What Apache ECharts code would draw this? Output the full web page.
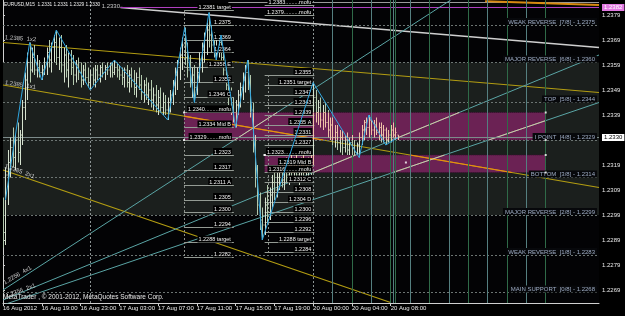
<!DOCTYPE html>
<html><head><meta charset="utf-8">
<script src="https://cdn.jsdelivr.net/npm/echarts@6.0.0/dist/echarts.min.js"></script>
<style>html,body{margin:0;padding:0;background:#000}#chart{width:625px;height:316px}</style>
</head><body><div id="chart"></div>
<script>
// ---------- data ----------
const tickLabels = ['16 Aug 2012','16 Aug 19:00','16 Aug 23:00','17 Aug 03:00','17 Aug 07:00','17 Aug 11:00','17 Aug 15:00','17 Aug 19:00','20 Aug 00:00','20 Aug 04:00','20 Aug 08:00'];
const tickIdx = [0,16,32,48,64,80,96,112,128,144,160];
const priceTicks = [1.2379,1.2369,1.2359,1.2349,1.2339,1.2319,1.2309,1.2299,1.2289,1.2279,1.2269];

const opens = [1.2300,1.2292,1.2315,1.2320,1.2326,1.2322,1.2329,1.2324,1.2331,1.2342,
1.2353,1.2360,1.2357,1.2362,1.2357,1.2358,1.2356,1.2357,1.2360,1.2364,
1.2361,1.2366,1.2368,1.2362,1.2366,1.2359,1.2363,1.2357,1.2361,1.2358,
1.2355,1.2359,1.2356,1.2353,1.2357,1.2354,1.2352,1.2355,1.2353,1.2357,
1.2355,1.2358,1.2356,1.2358,1.2357,1.2359,1.2356,1.2358,1.2357,1.2355,
1.2354,1.2357,1.2352,1.2355,1.2353,1.2350,1.2354,1.2351,1.2348,1.2351,
1.2347,1.2349,1.2345,1.2347,1.2343,1.2346,1.2342,1.2344,1.2341,1.2344,
1.2347,1.2351,1.2355,1.2358,1.2363,1.2367,1.2362,1.2357,1.2352,1.2355,
1.2350,1.2356,1.2361,1.2365,1.2369,1.2373,1.2371,1.2367,1.2364,1.2366,
1.2368,1.2362,1.2357,1.2351,1.2346,1.2342,1.2340,1.2343,1.2347,1.2350,
1.2353,1.2356,1.2352,1.2341,1.2327,1.2314,1.2303,1.2297,1.2295,1.2303,
1.2300,1.2307,1.2312,1.2309,1.2314,1.2316,1.2313,1.2317,1.2315,1.2319,
1.2316,1.2318,1.2315,1.2317,1.2319,1.2316,1.2318,1.2320,1.2320,1.2346,
1.2340,1.2342,1.2337,1.2340,1.2336,1.2333,1.2335,1.2330,1.2332,1.2328,
1.2330,1.2326,1.2329,1.2325,1.2328,1.2326,1.2324,1.2327,1.2330,1.2333,
1.2336,1.2334,1.2337,1.2333,1.2335,1.2332,1.2334,1.2331,1.2333,1.2329,
1.2331,1.2333,1.2331,1.2331];
const highs = [1.2306,1.2318,1.2325,1.2330,1.2334,1.2331,1.2336,1.2333,1.2345,1.2356,
1.2364,1.2368,1.2366,1.2367,1.2363,1.2361,1.2359,1.2362,1.2366,1.2369,
1.2368,1.2371,1.2373,1.2370,1.2371,1.2366,1.2367,1.2364,1.2365,1.2363,
1.2361,1.2362,1.2360,1.2359,1.2360,1.2358,1.2357,1.2358,1.2359,1.2359,
1.2359,1.2360,1.2359,1.2360,1.2360,1.2360,1.2361,1.2360,1.2359,1.2358,
1.2358,1.2359,1.2357,1.2358,1.2357,1.2356,1.2358,1.2355,1.2353,1.2354,
1.2352,1.2353,1.2350,1.2351,1.2349,1.2350,1.2348,1.2347,1.2346,1.2349,
1.2353,1.2358,1.2361,1.2366,1.2370,1.2374,1.2368,1.2363,1.2358,1.2359,
1.2358,1.2364,1.2368,1.2372,1.2376,1.2380,1.2375,1.2372,1.2369,1.2369,
1.2371,1.2365,1.2360,1.2355,1.2350,1.2346,1.2345,1.2349,1.2352,1.2356,
1.2359,1.2361,1.2355,1.2344,1.2331,1.2319,1.2308,1.2302,1.2306,1.2311,
1.2310,1.2315,1.2318,1.2317,1.2320,1.2321,1.2319,1.2322,1.2321,1.2323,
1.2322,1.2323,1.2320,1.2322,1.2323,1.2321,1.2322,1.2324,1.2352,1.2349,
1.2345,1.2346,1.2343,1.2344,1.2341,1.2338,1.2338,1.2335,1.2335,1.2333,
1.2333,1.2331,1.2332,1.2330,1.2331,1.2329,1.2328,1.2332,1.2335,1.2337,
1.2338,1.2339,1.2337,1.2337,1.2338,1.2336,1.2336,1.2335,1.2334,1.2333,
1.2335,1.2336,1.2334,1.2331];
const lows = [1.2286,1.2287,1.2303,1.2314,1.2318,1.2317,1.2320,1.2319,1.2327,1.2337,
1.2345,1.2352,1.2356,1.2355,1.2354,1.2354,1.2353,1.2355,1.2355,1.2358,
1.2356,1.2360,1.2359,1.2357,1.2356,1.2352,1.2354,1.2350,1.2355,1.2351,
1.2352,1.2353,1.2350,1.2351,1.2352,1.2350,1.2349,1.2351,1.2350,1.2353,
1.2352,1.2354,1.2353,1.2355,1.2354,1.2354,1.2355,1.2354,1.2353,1.2351,
1.2350,1.2350,1.2348,1.2350,1.2347,1.2346,1.2349,1.2345,1.2344,1.2345,
1.2343,1.2342,1.2341,1.2340,1.2339,1.2340,1.2339,1.2339,1.2337,1.2340,
1.2343,1.2347,1.2349,1.2353,1.2357,1.2359,1.2354,1.2350,1.2346,1.2344,
1.2347,1.2352,1.2356,1.2360,1.2363,1.2366,1.2364,1.2362,1.2361,1.2362,
1.2360,1.2354,1.2349,1.2343,1.2339,1.2336,1.2334,1.2339,1.2342,1.2345,
1.2348,1.2349,1.2338,1.2324,1.2310,1.2299,1.2293,1.2289,1.2291,1.2296,
1.2297,1.2302,1.2305,1.2306,1.2309,1.2310,1.2309,1.2312,1.2311,1.2313,
1.2312,1.2313,1.2311,1.2313,1.2314,1.2312,1.2314,1.2315,1.2319,1.2336,
1.2335,1.2334,1.2333,1.2334,1.2330,1.2329,1.2327,1.2326,1.2325,1.2324,
1.2323,1.2324,1.2323,1.2323,1.2323,1.2323,1.2323,1.2322,1.2327,1.2329,
1.2331,1.2330,1.2331,1.2330,1.2331,1.2329,1.2328,1.2328,1.2327,1.2328,
1.2328,1.2330,1.2329,1.2329];
const closes = [1.2292,1.2315,1.2320,1.2326,1.2322,1.2329,1.2324,1.2331,1.2342,1.2353,
1.2360,1.2357,1.2362,1.2357,1.2358,1.2356,1.2357,1.2360,1.2364,1.2361,
1.2366,1.2368,1.2362,1.2366,1.2359,1.2363,1.2357,1.2361,1.2358,1.2355,
1.2359,1.2356,1.2353,1.2357,1.2354,1.2352,1.2355,1.2353,1.2357,1.2355,
1.2358,1.2356,1.2358,1.2357,1.2359,1.2356,1.2358,1.2357,1.2355,1.2354,
1.2357,1.2352,1.2355,1.2353,1.2350,1.2354,1.2351,1.2348,1.2351,1.2347,
1.2349,1.2345,1.2347,1.2343,1.2346,1.2342,1.2344,1.2341,1.2344,1.2347,
1.2351,1.2355,1.2358,1.2363,1.2367,1.2362,1.2357,1.2352,1.2355,1.2350,
1.2356,1.2361,1.2365,1.2369,1.2373,1.2371,1.2367,1.2364,1.2366,1.2368,
1.2362,1.2357,1.2351,1.2346,1.2342,1.2340,1.2343,1.2347,1.2350,1.2353,
1.2356,1.2352,1.2341,1.2327,1.2314,1.2303,1.2297,1.2295,1.2303,1.2300,
1.2307,1.2312,1.2309,1.2314,1.2316,1.2313,1.2317,1.2315,1.2319,1.2316,
1.2318,1.2315,1.2317,1.2319,1.2316,1.2318,1.2320,1.2318,1.2346,1.2340,
1.2342,1.2337,1.2340,1.2336,1.2333,1.2335,1.2330,1.2332,1.2328,1.2330,
1.2326,1.2329,1.2325,1.2328,1.2326,1.2324,1.2327,1.2330,1.2333,1.2336,
1.2334,1.2337,1.2333,1.2335,1.2332,1.2334,1.2331,1.2333,1.2329,1.2331,
1.2333,1.2331,1.2332,1.2330];

const zigzagIdx = [1,11,16,22,36,46,68,75,79,85,88,90,96,101,107,128,147,151,158,163];
const zigzagPx  = [1.2305,1.2368,1.2353,1.2373,1.2349,1.2361,1.2337,1.2374,1.2344,1.2380,1.2361,1.2371,1.2334,1.2361,1.2289,1.2352,1.2322,1.2339,1.2327,1.2330];

// Murrey math levels
const murreyLevels = [1.2375,1.2360,1.2344,1.2329,1.2314,1.2299,1.2283,1.2268];
const murreyNames = ['WEAK REVERSE  [7/8]','MAJOR REVERSE  [6/8]','TOP  [5/8]','I POINT  [4/8]','BOTTOM  [3/8]','MAJOR REVERSE  [2/8]','WEAK REVERSE  [1/8]','MAIN SUPPORT  [0/8]'];

// projection levels (two groups)
const fibLeftPx = [1.2381,1.2375,1.2369,1.2364,1.2358,1.2352,1.2346,1.2340,1.2334,1.2329,1.2323,1.2317,1.2311,1.2305,1.2300,1.2294,1.2288,1.2282];
const fibLeftTxt = ['1.2381 target','1.2375','1.2369','1.2364','1.2358 E','1.2352','1.2346 C','1.2340.........mofu','1.2334 Mid B','1.2329........mofu','1.2323','1.2317','1.2311 A','1.2305','1.2300','1.2294','1.2288 target','1.2282'];
const fibRightPx = [1.2383,1.2379,1.2355,1.2351,1.2347,1.2343,1.2339,1.2335,1.2331,1.2327,1.2323,1.2319,1.2316,1.2312,1.2308,1.2304,1.2300,1.2296,1.2292,1.2288,1.2284];
const fibRightTxt = ['1.2383.........mofu','1.2379..........mofu','1.2355','1.2351 target','1.2347','1.2343','1.2339','1.2335 A','1.2331','1.2327','1.2323..........mofu','1.2319 Mid B','1.2316.........mofu','1.2312 C','1.2308','1.2304 D','1.2300','1.2296','1.2292','1.2288 target','1.2284'];

// zones / boxes (bar index, price)
const boxUpper = [[74.7,1.2340],[224,1.2329]];
const boxLower = [[108,1.2323],[224,1.2316]];
const grayZone = [1.2360,1.2299];

// trend lines: [[idx,price],[idx,price]]
const whiteLine  = [[48.5,1.2382],[246,1.2366]];
const purpleLine = [[48.5,1.2382],[246,1.2382]];
const topGrayLine = [[93,1.2384],[246,1.2384]];
const orangeTop  = [[199,1.23845],[246,1.2383]];
const gann1x2 = [[0,1.2368],[246,1.2348]];
const gann1x1 = [[0,1.2351],[246,1.2310]];
const gann2x1 = [[0,1.2317],[160,1.2264]];
const tealA = [[0,1.2269],[184.8,1.2385]];
const tealB = [[0,1.2265],[246,1.2363]];
const tealC = [[0,1.2263],[246,1.2344]];

const daySeparators = [36,128];
const sessionIdx = [136,144,152,160,161,162,168,176,184,192,200,208,216,224];
const bidPrice = 1.2330;
const tagPrice = 1.2382;

// ---------- chart ----------
function fontAvailable(name){
  const c = document.createElement('canvas').getContext('2d');
  const s = 'EURUSD,M15 1.2331 1.2331';
  c.font = '20px monospace'; const w0 = c.measureText(s).width;
  c.font = "20px '" + name + "', monospace"; const w1 = c.measureText(s).width;
  return Math.abs(w1 - w0) > 0.5;
}
const FONT = 'Liberation Sans';
const NARROW = fontAvailable('Liberation Sans Narrow');
const TITLE_FONT = NARROW ? 'Liberation Sans Narrow' : FONT;
const TITLE_SIZE = NARROW ? 6 : 4.8;

const chart = echarts.init(document.getElementById('chart'), null, {renderer:'canvas'});
const grid = {left:0, right:26, top:0, bottom:13, show:true, backgroundColor:'#030305', borderWidth:0};

function segSeries(pts, color, width, z, extra){
  return Object.assign({type:'line', data:pts, symbol:'none', silent:true, animation:false, z:z||3,
    lineStyle:{color:color, width:width||1}}, extra||{});
}
const upColor = '#d6e2cf', downColor = '#b3c9ad', inBoxColor = '#efc4a8';

function boxRects(api){
  return [boxUpper, boxLower].map(b=>{
    const a = api.coord(b[0]), c = api.coord(b[1]);
    return {x1:Math.min(a[0],c[0]), x2:Math.max(a[0],c[0]), y1:Math.min(a[1],c[1]), y2:Math.max(a[1],c[1])};
  });
}
function clipSeg(p0, p1, r){
  let t0 = 0, t1 = 1; const dx = p1[0]-p0[0], dy = p1[1]-p0[1];
  const P = [-dx, dx, -dy, dy], Q = [p0[0]-r.x1, r.x2-p0[0], p0[1]-r.y1, r.y2-p0[1]];
  for (let k=0;k<4;k++){
    if (P[k] === 0){ if (Q[k] < 0) return null; }
    else { const t = Q[k]/P[k];
      if (P[k] < 0){ if (t > t1) return null; if (t > t0) t0 = t; }
      else { if (t < t0) return null; if (t < t1) t1 = t; } }
  }
  return [[p0[0]+t0*dx, p0[1]+t0*dy],[p0[0]+t1*dx, p0[1]+t1*dy]];
}
const overlayLines = [
  {pts:gann1x1, color:'#ec8d10', width:1.2},
  {pts:tealA, color:'#d9c3a2', width:1},
  {pts:tealB, color:'#d9c3a2', width:1},
  {pts:tealC, color:'#d9c3a2', width:1},
  {pts:[[0,bidPrice],[246,bidPrice]], color:'#c9a3b2', width:1}
];

const option = {
  animation:false,
  textStyle:{fontFamily:FONT},
  title:[
    {text:'EURUSD,M15  1.2331 1.2331 1.2329 1.2330', left:4, top:2, padding:0, textStyle:{color:'#f0f0f0', fontSize:TITLE_SIZE, fontWeight:'normal', fontFamily:TITLE_FONT}},
    {text:'MetaTrader , © 2001-2012, MetaQuotes Software Corp.', left:3, top:294, padding:0, textStyle:{color:'#e8e8e8', fontSize:6.5, fontWeight:'normal', fontFamily:FONT}}
  ],
  grid:grid,
  xAxis:{type:'value', min:0, max:246, splitLine:{show:false},
    axisLine:{show:true, lineStyle:{color:'#cfcfcf', width:1}},
    axisTick:{show:true, customValues:tickIdx, length:3, lineStyle:{color:'#cfcfcf'}},
    axisLabel:{customValues:tickIdx, formatter:(v)=>{const k=tickIdx.indexOf(v); return k>=0?tickLabels[k]:'';},
      align:'left', margin:2, color:'#e8e8e8', fontSize:6, fontFamily:FONT, showMinLabel:true}
  },
  yAxis:{type:'value', position:'right', min:1.22638, max:1.2385, splitLine:{show:false},
    axisLine:{show:true, lineStyle:{color:'#cfcfcf', width:1}},
    axisTick:{show:true, customValues:priceTicks, length:2, lineStyle:{color:'#cfcfcf'}},
    axisLabel:{customValues:priceTicks, formatter:(v)=>v.toFixed(4), margin:3, color:'#e8e8e8', fontSize:6, fontFamily:FONT}
  },
  series:[
    {type:'line', data:[], z:0, silent:true,
      markArea:{silent:true, precision:6, itemStyle:{color:'#1b1f1d'}, data:[[{yAxis:grayZone[0]},{yAxis:grayZone[1]}]]}},
    {type:'line', data:[], z:1, silent:true,
      markArea:{silent:true, precision:6, itemStyle:{color:'#6b2254', borderColor:'#3a1030', borderWidth:1, borderType:'dotted'},
        data:[[{coord:boxUpper[0]},{coord:boxUpper[1]}],[{coord:boxLower[0]},{coord:boxLower[1]}]]}},
    {type:'line', data:[], z:2, silent:true,
      markLine:{silent:true, precision:6, symbol:['none','none'], animation:false,
        lineStyle:{color:'#6c7472', width:1, type:[2,2]},
        label:{show:true, position:'insideEndTop', distance:[2,0], formatter:'{b}', color:'#9eacc4', fontSize:6, fontFamily:FONT,
          backgroundColor:'#07080b', padding:[1,2,0,2]},
        data:murreyLevels.map((p,k)=>({yAxis:p, name:murreyNames[k]+' - '+p.toFixed(4)}))}},
    {type:'line', data:[], z:2, silent:true,
      markLine:{silent:true, precision:6, symbol:['none','none'], animation:false, label:{show:false},
        data:daySeparators.map(v=>({xAxis:v, lineStyle:{color:'#8c9494', width:1, type:[2,2]}}))
          .concat(sessionIdx.map((v,k)=>({xAxis:v, lineStyle:{color:(k%2?'#2f6a48':'#557f80'), width:1, type:'solid'}})))}},
    {type:'line', data:[], z:3, silent:true,
      markLine:{silent:true, precision:6, symbol:['none','none'], animation:false,
        lineStyle:{color:'#7d8b8b', width:1, type:'solid'},
        label:{show:true, position:'end', distance:3, formatter:()=>bidPrice.toFixed(4), color:'#000', backgroundColor:'#ffffff', padding:[1,2,0,2], fontSize:6, fontFamily:FONT},
        data:[{yAxis:bidPrice}]}},
    {type:'line', data:[], z:3, silent:true,
      markLine:{silent:true, precision:6, symbol:['none','none'], animation:false,
        lineStyle:{color:'#949b94', width:1, type:'solid'},
        label:{show:true, position:'insideEndTop', distance:[2,0], formatter:'{b}', color:'#f2f2f2', fontSize:5.5, fontFamily:FONT, backgroundColor:'#000', padding:[1,1,0,1]},
        data:fibLeftPx.map((p,k)=>[{coord:[74.7,p], name:fibLeftTxt[k]},{coord:[95.3,p]}])
          .concat(fibRightPx.map((p,k)=>[{coord:[108,p], name:fibRightTxt[k]},{coord:[128.5,p]}]))
          .concat([[{coord:[74.7,fibLeftPx[0]], lineStyle:{type:[2,2], color:'#8a8f8a'}, label:{show:false}},{coord:[74.7,fibLeftPx[fibLeftPx.length-1]]}],
                   [{coord:[109.5,fibRightPx[2]], lineStyle:{type:[2,2], color:'#8a8f8a'}, label:{show:false}},{coord:[109.5,fibRightPx[fibRightPx.length-1]]}]])}},
    segSeries(topGrayLine,'#9a9a9a',1,3),
    segSeries(orangeTop,'#d88a10',2,3),
    segSeries(whiteLine,'#cfcfcf',1.6,3),
    segSeries(purpleLine,'#b040c0',1.2,3,{endLabel:{show:true, formatter:()=>tagPrice.toFixed(4), color:'#ffffff', backgroundColor:'#e27ae2', padding:[1,2,0,2], fontSize:6, fontFamily:FONT, distance:3}}),
    segSeries(gann1x2,'#b39d12',1.2,3),
    segSeries(gann1x1,'#b39d12',1.2,3),
    segSeries(gann2x1,'#b39d12',1.2,3),
    segSeries(tealA,'#5aa5a5',1,3),
    segSeries(tealB,'#5aa5a5',1,3),
    segSeries(tealC,'#5aa5a5',1,3),
    {type:'custom', z:4, silent:true, animation:false, clip:true,
      encode:{x:0, y:1}, data:[[0, bidPrice]],
      renderItem:(params, api)=>{
        const rects = boxRects(api); const children = [];
        overlayLines.forEach(L=>{
          const p0 = api.coord(L.pts[0]), p1 = api.coord(L.pts[1]);
          rects.forEach(r=>{ const s = clipSeg(p0,p1,r);
            if (s) children.push({type:'line', shape:{x1:s[0][0],y1:s[0][1],x2:s[1][0],y2:s[1][1]}, style:{stroke:L.color, lineWidth:L.width}}); });
        });
        return {type:'group', children};
      }},
    {type:'custom', z:5, silent:true, animation:false, clip:true,
      renderItem:(params, api)=>{
        const i = api.value(0);
        const x = Math.round(api.coord([i, api.value(1)])[0]) + 0.5;
        const yo = api.coord([i, api.value(1)])[1];
        const yc = api.coord([i, api.value(2)])[1];
        const yl = api.coord([i, api.value(3)])[1];
        const yh = api.coord([i, api.value(4)])[1];
        const base = api.value(2) >= api.value(1) ? upColor : downColor;
        const ranges = boxRects(api).filter(r=>x>=r.x1 && x<=r.x2).map(r=>[r.y1,r.y2]);
        const inside = y => ranges.some(r=>y>=r[0] && y<=r[1]);
        const pts = [yh, yl];
        ranges.forEach(r=>{ if (r[0]>yh && r[0]<yl) pts.push(r[0]); if (r[1]>yh && r[1]<yl) pts.push(r[1]); });
        pts.sort((a,b)=>a-b);
        const children = [];
        for (let k=0;k<pts.length-1;k++){
          const m = (pts[k]+pts[k+1])/2;
          children.push({type:'line', shape:{x1:x, y1:pts[k], x2:x, y2:pts[k+1]}, style:{stroke: inside(m)?inBoxColor:base, lineWidth:1}});
        }
        children.push({type:'line', shape:{x1:x-1, y1:yo, x2:x, y2:yo}, style:{stroke: inside(yo)?inBoxColor:base, lineWidth:1}});
        children.push({type:'line', shape:{x1:x, y1:yc, x2:x+1, y2:yc}, style:{stroke: inside(yc)?inBoxColor:base, lineWidth:1}});
        return {type:'group', children};
      },
      encode:{x:0, y:[1,2,3,4]},
      data:opens.map((o,i)=>[i, o, closes[i], lows[i], highs[i]])},
    {type:'line', z:6, silent:true, animation:false, symbol:'none',
      lineStyle:{color:'#2ea6e0', width:1},
      data:zigzagIdx.map((v,k)=>[v, zigzagPx[k]])},
    {type:'scatter', z:7, silent:true, symbol:'rect', symbolSize:2, itemStyle:{color:'#ffffff'},
      data:[boxUpper[0],[74.7,1.2329],[224,1.2340],boxUpper[1],[108,1.2323],boxLower[0],[224,1.2323],boxLower[1],[166.3,1.2320]]},
    {type:'scatter', z:8, silent:true, symbolSize:0, itemStyle:{color:'transparent'},
      label:{show:true, color:'#f0f0f0', fontSize:6, fontFamily:FONT, position:'right', distance:0},
      data:[
        {value:[0.8,1.2370], label:{formatter:'1.2385  1x2', rotate:-4}},
        {value:[0.8,1.2352], label:{formatter:'1.2385  1x1', rotate:-9}},
        {value:[0.8,1.23186], label:{formatter:'1.2385  2x1', rotate:-20}},
        {value:[0.4,1.22718], label:{formatter:'1.2256  4x1', rotate:30}},
        {value:[1.2,1.22666], label:{formatter:'1.2256  2x1', rotate:20}},
        {value:[48.3,1.23826], label:{formatter:'1.2330', position:'left'}}
      ]}
  ]
};
chart.setOption(option);
</script>
</body></html>
